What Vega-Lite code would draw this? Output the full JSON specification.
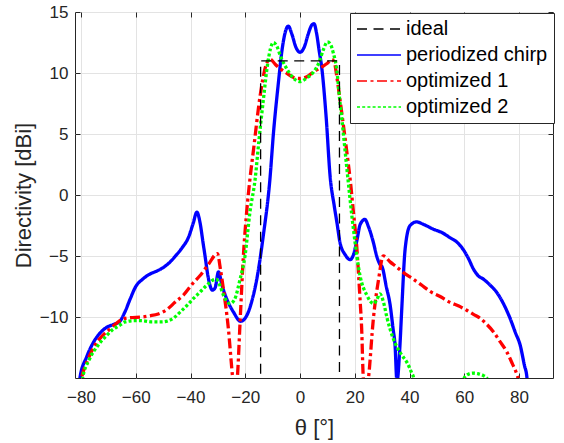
{
  "$schema": "https://vega.github.io/schema/vega-lite/v6.json",
  "autosize": {"type": "none"},
  "padding": {"left": 75, "top": 12, "right": 11, "bottom": 65},
  "width": 478,
  "height": 366,
  "config": {
    "font": "Liberation Sans",
    "view": {"stroke": "#262626", "strokeWidth": 1},
    "axis": {"labelColor": "#262626", "titleColor": "#262626", "labelFontSize": 17, "titleFontSize": 22, "titleFontWeight": "normal", "domainColor": "#262626", "tickColor": "#262626", "gridColor": "#e3e3e3", "gridOpacity": 1, "labelFont": "Liberation Sans", "titleFont": "Liberation Sans"},
    "legend": {"orient": "none", "legendX": 275, "legendY": 1, "fillColor": "#ffffff", "strokeColor": "#262626", "padding": 6, "symbolType": "stroke", "symbolSize": 1936, "labelFontSize": 20, "labelColor": "#000000", "labelOffset": 4, "rowPadding": 6, "clipHeight": 20, "labelFont": "Liberation Sans"}
  },
  "resolve": {"axis": {"x": "independent", "y": "independent"}},
  "layer": [
    {
      "data": {"values": [
        {"series": "periodized chirp", "theta": -81, "D": -16.5},
        {"series": "periodized chirp", "theta": -80.4, "D": -15},
        {"series": "periodized chirp", "theta": -78, "D": -13.3},
        {"series": "periodized chirp", "theta": -76, "D": -12.3},
        {"series": "periodized chirp", "theta": -73, "D": -11.3},
        {"series": "periodized chirp", "theta": -71, "D": -10.9},
        {"series": "periodized chirp", "theta": -68, "D": -10.6},
        {"series": "periodized chirp", "theta": -66, "D": -10.4},
        {"series": "periodized chirp", "theta": -64, "D": -9.6},
        {"series": "periodized chirp", "theta": -62, "D": -8.5},
        {"series": "periodized chirp", "theta": -60, "D": -7.5},
        {"series": "periodized chirp", "theta": -57.5, "D": -6.9},
        {"series": "periodized chirp", "theta": -55, "D": -6.5},
        {"series": "periodized chirp", "theta": -52, "D": -6.2},
        {"series": "periodized chirp", "theta": -50, "D": -5.95},
        {"series": "periodized chirp", "theta": -47.5, "D": -5.5},
        {"series": "periodized chirp", "theta": -45.5, "D": -5.0},
        {"series": "periodized chirp", "theta": -43, "D": -4.3},
        {"series": "periodized chirp", "theta": -40.8, "D": -3.5},
        {"series": "periodized chirp", "theta": -39, "D": -2.3},
        {"series": "periodized chirp", "theta": -37.7, "D": -1.4},
        {"series": "periodized chirp", "theta": -36.5, "D": -2.3},
        {"series": "periodized chirp", "theta": -35.5, "D": -3.8},
        {"series": "periodized chirp", "theta": -34.7, "D": -5.0},
        {"series": "periodized chirp", "theta": -33.5, "D": -6.8},
        {"series": "periodized chirp", "theta": -32, "D": -7.8},
        {"series": "periodized chirp", "theta": -31, "D": -7.6},
        {"series": "periodized chirp", "theta": -29.8, "D": -6.3},
        {"series": "periodized chirp", "theta": -28.5, "D": -7.4},
        {"series": "periodized chirp", "theta": -26.8, "D": -8.5},
        {"series": "periodized chirp", "theta": -24.3, "D": -9.6},
        {"series": "periodized chirp", "theta": -21.7, "D": -10.35},
        {"series": "periodized chirp", "theta": -19.5, "D": -9.9},
        {"series": "periodized chirp", "theta": -18, "D": -9.0},
        {"series": "periodized chirp", "theta": -15.8, "D": -6.9},
        {"series": "periodized chirp", "theta": -13.4, "D": -3.3},
        {"series": "periodized chirp", "theta": -11, "D": 1.3},
        {"series": "periodized chirp", "theta": -9.7, "D": 5.1},
        {"series": "periodized chirp", "theta": -8, "D": 9.0},
        {"series": "periodized chirp", "theta": -6.5, "D": 12},
        {"series": "periodized chirp", "theta": -5.2, "D": 13.5},
        {"series": "periodized chirp", "theta": -4.3, "D": 13.85},
        {"series": "periodized chirp", "theta": -3, "D": 13.2},
        {"series": "periodized chirp", "theta": -1.5, "D": 12.1},
        {"series": "periodized chirp", "theta": 0, "D": 11.7},
        {"series": "periodized chirp", "theta": 1.5, "D": 12.1},
        {"series": "periodized chirp", "theta": 3, "D": 13.2},
        {"series": "periodized chirp", "theta": 4.2, "D": 13.9},
        {"series": "periodized chirp", "theta": 5.1, "D": 14.05},
        {"series": "periodized chirp", "theta": 6, "D": 13.3},
        {"series": "periodized chirp", "theta": 7, "D": 11.8},
        {"series": "periodized chirp", "theta": 7.9, "D": 10.5},
        {"series": "periodized chirp", "theta": 9.5, "D": 6.5},
        {"series": "periodized chirp", "theta": 11, "D": 1.5},
        {"series": "periodized chirp", "theta": 12.5, "D": -0.9},
        {"series": "periodized chirp", "theta": 13.5, "D": -2.3},
        {"series": "periodized chirp", "theta": 14.6, "D": -3.9},
        {"series": "periodized chirp", "theta": 16.5, "D": -4.9},
        {"series": "periodized chirp", "theta": 18.3, "D": -5.3},
        {"series": "periodized chirp", "theta": 19.5, "D": -4.9},
        {"series": "periodized chirp", "theta": 20.7, "D": -3.8},
        {"series": "periodized chirp", "theta": 22, "D": -2.4},
        {"series": "periodized chirp", "theta": 23.7, "D": -2.0},
        {"series": "periodized chirp", "theta": 25, "D": -2.6},
        {"series": "periodized chirp", "theta": 26.8, "D": -3.9},
        {"series": "periodized chirp", "theta": 28, "D": -5.0},
        {"series": "periodized chirp", "theta": 29.2, "D": -5.7},
        {"series": "periodized chirp", "theta": 30, "D": -5.9},
        {"series": "periodized chirp", "theta": 31.5, "D": -7.5},
        {"series": "periodized chirp", "theta": 32.9, "D": -9},
        {"series": "periodized chirp", "theta": 34, "D": -11},
        {"series": "periodized chirp", "theta": 34.7, "D": -12.3},
        {"series": "periodized chirp", "theta": 35.4, "D": -15.3},
        {"series": "periodized chirp", "theta": 36.5, "D": -12.3},
        {"series": "periodized chirp", "theta": 37.1, "D": -9.6},
        {"series": "periodized chirp", "theta": 38.4, "D": -4.4},
        {"series": "periodized chirp", "theta": 40.2, "D": -2.5},
        {"series": "periodized chirp", "theta": 42.6, "D": -2.2},
        {"series": "periodized chirp", "theta": 45, "D": -2.4},
        {"series": "periodized chirp", "theta": 48.7, "D": -2.8},
        {"series": "periodized chirp", "theta": 52, "D": -3.1},
        {"series": "periodized chirp", "theta": 54.8, "D": -3.5},
        {"series": "periodized chirp", "theta": 57.5, "D": -3.9},
        {"series": "periodized chirp", "theta": 59.7, "D": -4.5},
        {"series": "periodized chirp", "theta": 61.5, "D": -5.2},
        {"series": "periodized chirp", "theta": 63.3, "D": -6.05},
        {"series": "periodized chirp", "theta": 65, "D": -6.6},
        {"series": "periodized chirp", "theta": 67, "D": -6.9},
        {"series": "periodized chirp", "theta": 69.5, "D": -7.4},
        {"series": "periodized chirp", "theta": 71.9, "D": -8.0},
        {"series": "periodized chirp", "theta": 74.5, "D": -9.0},
        {"series": "periodized chirp", "theta": 76.7, "D": -10.1},
        {"series": "periodized chirp", "theta": 78.7, "D": -11.3},
        {"series": "periodized chirp", "theta": 80.4, "D": -12.3},
        {"series": "periodized chirp", "theta": 82, "D": -14},
        {"series": "periodized chirp", "theta": 82.8, "D": -14.8},
        {"series": "periodized chirp", "theta": 83.3, "D": -16},

        {"series": "optimized 1", "theta": -81, "D": -16.5},
        {"series": "optimized 1", "theta": -79.8, "D": -15},
        {"series": "optimized 1", "theta": -77.5, "D": -13.5},
        {"series": "optimized 1", "theta": -74.9, "D": -12.3},
        {"series": "optimized 1", "theta": -72.5, "D": -11.6},
        {"series": "optimized 1", "theta": -70, "D": -11.1},
        {"series": "optimized 1", "theta": -67.5, "D": -10.6},
        {"series": "optimized 1", "theta": -65.1, "D": -10.2},
        {"series": "optimized 1", "theta": -62, "D": -10.05},
        {"series": "optimized 1", "theta": -57.8, "D": -10.0},
        {"series": "optimized 1", "theta": -54.8, "D": -9.9},
        {"series": "optimized 1", "theta": -51.8, "D": -9.75},
        {"series": "optimized 1", "theta": -48.7, "D": -9.4},
        {"series": "optimized 1", "theta": -45.7, "D": -8.8},
        {"series": "optimized 1", "theta": -42.6, "D": -8.2},
        {"series": "optimized 1", "theta": -39, "D": -7.2},
        {"series": "optimized 1", "theta": -36.5, "D": -6.6},
        {"series": "optimized 1", "theta": -33.5, "D": -5.7},
        {"series": "optimized 1", "theta": -30.2, "D": -4.8},
        {"series": "optimized 1", "theta": -29, "D": -6.2},
        {"series": "optimized 1", "theta": -28, "D": -7.7},
        {"series": "optimized 1", "theta": -26.2, "D": -10.9},
        {"series": "optimized 1", "theta": -24.6, "D": -15},
        {"series": "optimized 1", "theta": -23.8, "D": -16.5},
        {"series": "optimized 1", "theta": -22.9, "D": -15},
        {"series": "optimized 1", "theta": -21.9, "D": -10.4},
        {"series": "optimized 1", "theta": -20.7, "D": -5},
        {"series": "optimized 1", "theta": -19.5, "D": -1.4},
        {"series": "optimized 1", "theta": -18.3, "D": 1.3},
        {"series": "optimized 1", "theta": -17, "D": 3.7},
        {"series": "optimized 1", "theta": -14.6, "D": 8.1},
        {"series": "optimized 1", "theta": -12.5, "D": 10.6},
        {"series": "optimized 1", "theta": -11, "D": 11.15},
        {"series": "optimized 1", "theta": -9, "D": 10.7},
        {"series": "optimized 1", "theta": -5, "D": 10.0},
        {"series": "optimized 1", "theta": -2.5, "D": 9.65},
        {"series": "optimized 1", "theta": 0, "D": 9.55},
        {"series": "optimized 1", "theta": 2.5, "D": 9.7},
        {"series": "optimized 1", "theta": 5, "D": 10.1},
        {"series": "optimized 1", "theta": 8, "D": 10.5},
        {"series": "optimized 1", "theta": 10, "D": 10.8},
        {"series": "optimized 1", "theta": 11.6, "D": 11.1},
        {"series": "optimized 1", "theta": 12.5, "D": 10.9},
        {"series": "optimized 1", "theta": 13.5, "D": 9.6},
        {"series": "optimized 1", "theta": 14.6, "D": 7.8},
        {"series": "optimized 1", "theta": 17, "D": 3.7},
        {"series": "optimized 1", "theta": 18.3, "D": 1.3},
        {"series": "optimized 1", "theta": 19.5, "D": -1.4},
        {"series": "optimized 1", "theta": 20.7, "D": -4.2},
        {"series": "optimized 1", "theta": 21.9, "D": -8.5},
        {"series": "optimized 1", "theta": 22.5, "D": -10.9},
        {"series": "optimized 1", "theta": 23.1, "D": -15},
        {"series": "optimized 1", "theta": 24, "D": -16.5},
        {"series": "optimized 1", "theta": 25, "D": -15},
        {"series": "optimized 1", "theta": 26.8, "D": -10.1},
        {"series": "optimized 1", "theta": 28.7, "D": -6.9},
        {"series": "optimized 1", "theta": 30.4, "D": -5.0},
        {"series": "optimized 1", "theta": 33, "D": -5.5},
        {"series": "optimized 1", "theta": 35.3, "D": -5.9},
        {"series": "optimized 1", "theta": 38, "D": -6.4},
        {"series": "optimized 1", "theta": 41.4, "D": -6.9},
        {"series": "optimized 1", "theta": 44.5, "D": -7.4},
        {"series": "optimized 1", "theta": 47.5, "D": -7.9},
        {"series": "optimized 1", "theta": 51, "D": -8.3},
        {"series": "optimized 1", "theta": 54.8, "D": -8.8},
        {"series": "optimized 1", "theta": 58, "D": -9.1},
        {"series": "optimized 1", "theta": 60.9, "D": -9.45},
        {"series": "optimized 1", "theta": 63.5, "D": -9.8},
        {"series": "optimized 1", "theta": 65.8, "D": -10.1},
        {"series": "optimized 1", "theta": 68.2, "D": -10.6},
        {"series": "optimized 1", "theta": 70.6, "D": -11.2},
        {"series": "optimized 1", "theta": 73, "D": -12},
        {"series": "optimized 1", "theta": 75.5, "D": -12.85},
        {"series": "optimized 1", "theta": 77.5, "D": -13.8},
        {"series": "optimized 1", "theta": 79.2, "D": -14.7},
        {"series": "optimized 1", "theta": 79.6, "D": -15},
        {"series": "optimized 1", "theta": 80.2, "D": -16},

        {"series": "optimized 2", "theta": -80, "D": -16},
        {"series": "optimized 2", "theta": -79.4, "D": -15},
        {"series": "optimized 2", "theta": -77, "D": -13.5},
        {"series": "optimized 2", "theta": -73.7, "D": -12.3},
        {"series": "optimized 2", "theta": -71, "D": -11.6},
        {"series": "optimized 2", "theta": -68.8, "D": -11.1},
        {"series": "optimized 2", "theta": -66, "D": -10.7},
        {"series": "optimized 2", "theta": -63.9, "D": -10.4},
        {"series": "optimized 2", "theta": -60.5, "D": -10.3},
        {"series": "optimized 2", "theta": -57.8, "D": -10.3},
        {"series": "optimized 2", "theta": -54, "D": -10.4},
        {"series": "optimized 2", "theta": -50.5, "D": -10.4},
        {"series": "optimized 2", "theta": -48, "D": -10.3},
        {"series": "optimized 2", "theta": -45.7, "D": -10.0},
        {"series": "optimized 2", "theta": -43.8, "D": -9.6},
        {"series": "optimized 2", "theta": -41.5, "D": -9.1},
        {"series": "optimized 2", "theta": -39, "D": -8.5},
        {"series": "optimized 2", "theta": -36.5, "D": -7.95},
        {"series": "optimized 2", "theta": -34.1, "D": -7.4},
        {"series": "optimized 2", "theta": -32, "D": -7.0},
        {"series": "optimized 2", "theta": -30.6, "D": -6.9},
        {"series": "optimized 2", "theta": -29.3, "D": -7.4},
        {"series": "optimized 2", "theta": -28, "D": -8.2},
        {"series": "optimized 2", "theta": -25.6, "D": -8.9},
        {"series": "optimized 2", "theta": -24, "D": -8.6},
        {"series": "optimized 2", "theta": -21.9, "D": -6.9},
        {"series": "optimized 2", "theta": -20.1, "D": -5},
        {"series": "optimized 2", "theta": -18.3, "D": -1.4},
        {"series": "optimized 2", "theta": -16.4, "D": 1.3},
        {"series": "optimized 2", "theta": -15, "D": 4.5},
        {"series": "optimized 2", "theta": -13.4, "D": 7.8},
        {"series": "optimized 2", "theta": -11.8, "D": 10.8},
        {"series": "optimized 2", "theta": -10.8, "D": 12.0},
        {"series": "optimized 2", "theta": -9.7, "D": 12.5},
        {"series": "optimized 2", "theta": -8.5, "D": 12.2},
        {"series": "optimized 2", "theta": -7, "D": 11.3},
        {"series": "optimized 2", "theta": -5, "D": 10.4},
        {"series": "optimized 2", "theta": -2.5, "D": 9.6},
        {"series": "optimized 2", "theta": 0, "D": 9.3},
        {"series": "optimized 2", "theta": 2.5, "D": 9.6},
        {"series": "optimized 2", "theta": 5, "D": 10.1},
        {"series": "optimized 2", "theta": 7, "D": 10.9},
        {"series": "optimized 2", "theta": 8.5, "D": 11.9},
        {"series": "optimized 2", "theta": 10, "D": 12.55},
        {"series": "optimized 2", "theta": 11, "D": 12.4},
        {"series": "optimized 2", "theta": 12.2, "D": 11.6},
        {"series": "optimized 2", "theta": 13.4, "D": 10.3},
        {"series": "optimized 2", "theta": 14.5, "D": 7.8},
        {"series": "optimized 2", "theta": 15.2, "D": 6.4},
        {"series": "optimized 2", "theta": 17, "D": 2.4},
        {"series": "optimized 2", "theta": 19.5, "D": -2.8},
        {"series": "optimized 2", "theta": 21.9, "D": -6.6},
        {"series": "optimized 2", "theta": 24.4, "D": -8.2},
        {"series": "optimized 2", "theta": 26.8, "D": -8.9},
        {"series": "optimized 2", "theta": 28, "D": -8.6},
        {"series": "optimized 2", "theta": 29.2, "D": -8.1},
        {"series": "optimized 2", "theta": 30.5, "D": -8.8},
        {"series": "optimized 2", "theta": 31.8, "D": -10.1},
        {"series": "optimized 2", "theta": 34.1, "D": -11.8},
        {"series": "optimized 2", "theta": 37.1, "D": -13.1},
        {"series": "optimized 2", "theta": 39, "D": -13.7},
        {"series": "optimized 2", "theta": 40.8, "D": -14.6},
        {"series": "optimized 2", "theta": 41.5, "D": -15},
        {"series": "optimized 2", "theta": 42, "D": -17},
        {"series": "optimized 2", "theta": 59.3, "D": -17},
        {"series": "optimized 2", "theta": 60, "D": -15},
        {"series": "optimized 2", "theta": 61, "D": -14.75},
        {"series": "optimized 2", "theta": 63, "D": -14.6},
        {"series": "optimized 2", "theta": 65, "D": -14.65},
        {"series": "optimized 2", "theta": 67, "D": -14.8},
        {"series": "optimized 2", "theta": 68.2, "D": -15},
        {"series": "optimized 2", "theta": 69, "D": -17}
      ]},
      "mark": {"type": "line", "interpolate": "monotone", "clip": true, "strokeCap": "butt", "strokeWidth": 3.3},
      "encoding": {
        "x": {"field": "theta", "type": "quantitative",
              "scale": {"domain": [-82.2, 92.4], "nice": false, "zero": false},
              "axis": {"values": [-80, -60, -40, -20, 0, 20, 40, 60, 80], "title": "θ [°]", "grid": true, "tickSize": -5, "labelPadding": 16, "titlePadding": 12, "domain": false, "labelFlush": false}},
        "y": {"field": "D", "type": "quantitative",
              "scale": {"domain": [-15, 15], "nice": false, "zero": false},
              "axis": {"values": [-10, -5, 0, 5, 10, 15], "title": "Directivity [dBi]", "grid": true, "tickSize": -5, "labelPadding": 12, "titlePadding": 4, "domain": false, "labelFlush": false}},
        "color": {"field": "series", "type": "nominal", "title": null,
                  "scale": {"domain": ["ideal", "periodized chirp", "optimized 1", "optimized 2"], "range": ["#000000", "#0000ff", "#ff0000", "#00ff00"]}},
        "strokeDash": {"field": "series", "type": "nominal", "title": null,
                  "scale": {"domain": ["ideal", "periodized chirp", "optimized 1", "optimized 2"], "range": [[10, 6.5], [1, 0], [10, 3.5, 3, 3.5], [3, 2.2]]}}
      }
    },
    {
      "data": {"values": [
        {"series": "ideal", "i": 1, "theta": -14.4, "D": -16},
        {"series": "ideal", "i": 2, "theta": -14.4, "D": 11},
        {"series": "ideal", "i": 3, "theta": 14.4, "D": 11},
        {"series": "ideal", "i": 4, "theta": 14.4, "D": -16}
      ]},
      "mark": {"type": "line", "clip": true, "strokeCap": "butt", "strokeWidth": 1.3},
      "encoding": {
        "x": {"field": "theta", "type": "quantitative",
              "axis": {"orient": "top", "values": [-80, -60, -40, -20, 0, 20, 40, 60, 80], "labels": false, "title": null, "grid": false, "tickSize": -5, "domain": false}},
        "y": {"field": "D", "type": "quantitative",
              "axis": {"orient": "right", "values": [-10, -5, 0, 5, 10, 15], "labels": false, "title": null, "grid": false, "tickSize": -5, "domain": false}},
        "order": {"field": "i", "type": "quantitative"},
        "color": {"field": "series", "type": "nominal", "title": null},
        "strokeDash": {"field": "series", "type": "nominal", "title": null}
      }
    }
  ]
}
